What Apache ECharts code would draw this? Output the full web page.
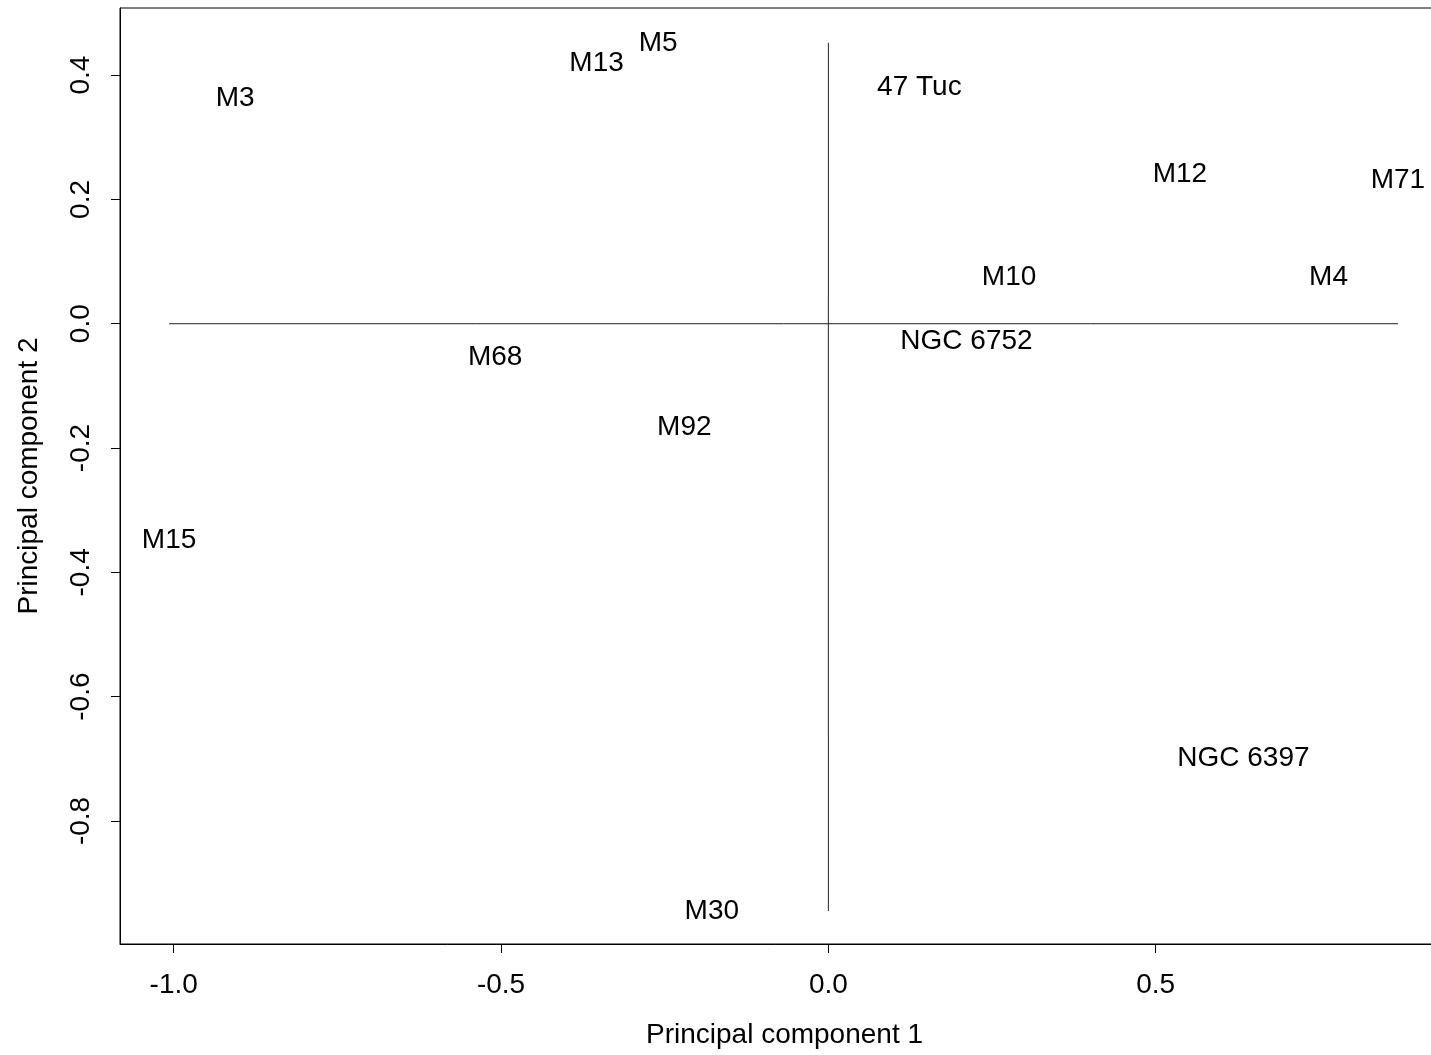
<!DOCTYPE html>
<html>
<head>
<meta charset="utf-8">
<title>Principal components</title>
<script src="https://cdn.jsdelivr.net/npm/echarts@6/dist/echarts.min.js"></script>
<style>
  html, body { margin: 0; padding: 0; background: #fff; }
  #chart { width: 1431px; height: 1055px; }
</style>
</head>
<body>
<div id="chart"></div>
<script>
// cluster names and their scores on the first two principal components
var clusters = ['M5', 'M13', 'M3', '47 Tuc', 'M12', 'M71', 'M10', 'M4', 'NGC 6752',
    'M68', 'M92', 'M15', 'NGC 6397', 'M30'];
var pc1 = [-0.260, -0.354, -0.906, 0.139, 0.537, 0.870, 0.276, 0.764, 0.211,
    -0.509, -0.220, -1.007, 0.634, -0.178];
var pc2 = [0.452, 0.419, 0.363, 0.380, 0.241, 0.230, 0.075, 0.075, -0.029,
    -0.054, -0.167, -0.349, -0.699, -0.945];
var xTicks = [-1.0, -0.5, 0.0, 0.5];
var yTicks = [-0.8, -0.6, -0.4, -0.2, 0.0, 0.2, 0.4];

var font = 'Liberation Sans, Arial, Helvetica, sans-serif';

var points = [];
for (var i = 0; i < clusters.length; i++) {
    points.push({ name: clusters[i], value: [pc1[i], pc2[i]] });
}
// reference lines through the origin, spanning the data range
var hLine = [[Math.min.apply(null, pc1), 0], [Math.max.apply(null, pc1), 0]];
var vLine = [[0, Math.min.apply(null, pc2)], [0, Math.max.apply(null, pc2)]];

var chart = echarts.init(document.getElementById('chart'));
var option = {
    backgroundColor: '#fff',
    animation: false,
    grid: {
        left: 120,
        top: 8,
        width: 1329,
        height: 936,
        outerBoundsMode: 'none',
        show: true,
        borderColor: '#000',
        borderWidth: 1
    },
    xAxis: {
        type: 'value',
        min: -1.082,
        max: 0.948,
        name: 'Principal component 1',
        nameLocation: 'middle',
        nameGap: 77,
        nameTextStyle: { fontFamily: font, fontSize: 28, color: '#000', lineHeight: 28 },
        splitLine: { show: false },
        axisLine: { show: true, onZero: false, lineStyle: { color: '#000', width: 1 } },
        axisTick: {
            show: true, length: 9, customValues: xTicks,
            lineStyle: { color: '#000', width: 1 }
        },
        axisLabel: {
            customValues: xTicks,
            margin: 27,
            fontFamily: font, fontSize: 28, color: '#000', lineHeight: 28,
            formatter: function (v) { return v.toFixed(1); }
        }
    },
    yAxis: {
        type: 'value',
        min: -0.998,
        max: 0.508,
        name: 'Principal component 2',
        nameLocation: 'middle',
        nameGap: 77,
        nameTextStyle: { fontFamily: font, fontSize: 28, color: '#000', lineHeight: 28 },
        splitLine: { show: false },
        axisLine: { show: true, onZero: false, lineStyle: { color: '#000', width: 1 } },
        axisTick: {
            show: true, length: 9, customValues: yTicks,
            lineStyle: { color: '#000', width: 1 }
        },
        axisLabel: {
            customValues: yTicks,
            rotate: 90,
            margin: 25,
            fontFamily: font, fontSize: 28, color: '#000', lineHeight: 28,
            formatter: function (v) { return v.toFixed(1); }
        }
    },
    series: [
        {
            type: 'line',
            data: hLine,
            symbol: 'none',
            lineStyle: { color: '#222', width: 1 },
            silent: true
        },
        {
            type: 'line',
            data: vLine,
            symbol: 'none',
            lineStyle: { color: '#222', width: 1 },
            silent: true
        },
        {
            type: 'scatter',
            data: points,
            symbolSize: 0,
            itemStyle: { opacity: 1 },
            label: {
                show: true,
                position: 'inside',
                formatter: '{b}',
                fontFamily: font,
                fontSize: 28,
                color: '#000'
            }
        }
    ]
};
chart.setOption(option);
</script>
</body>
</html>
